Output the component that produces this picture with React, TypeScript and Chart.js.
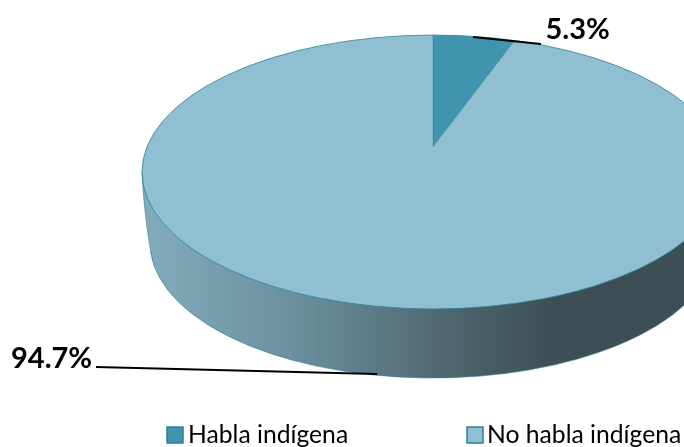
import React, { useEffect, useRef } from "react";
import { Chart, registerables } from "chart.js";

Chart.register(...registerables);

const categories = ["Habla indígena", "No habla indígena"];
const shares = [5.3, 94.7];
const sliceColors = ["#4094ad", "#90bfd2"];
const RIM = "#2f8298";
const FONT = "Lato, Carlito, sans-serif";

// top face, wall foot and apex of the tilted disc
const TOP = { x: 433, y: 172, rx: 291, ry: 137 };
const FOOT = { x: 433, y: 243, rx: 283, ry: 135 };
const APEX = { x: 433, y: 147, rx: 450, tilt: 0.451 };

const labelSpots = [
  { tx: 545.5, ty: 30, from: [473, 37], to: [541, 44] },
  { tx: 11, ty: 358.5, from: [96, 367], to: [377, 374] },
];
const legendSpots = [
  { box: 167, text: 188 },
  { box: 467, text: 487 },
];

const wallPlugin = {
  id: "wall",
  beforeDatasetsDraw(chart: any) {
    const { ctx } = chart;
    const g = ctx.createLinearGradient(142, 0, 724, 0);
    g.addColorStop(0, "#82acbc");
    g.addColorStop(0.26, "#6c909f");
    g.addColorStop(0.5, "#516a74");
    g.addColorStop(0.7, "#3d4f55");
    g.addColorStop(1, "#3d4f55");
    ctx.save();
    ctx.beginPath();
    ctx.moveTo(TOP.x - TOP.rx, TOP.y);
    ctx.bezierCurveTo(143, 195, 146, 225, FOOT.x - FOOT.rx + 1, FOOT.y + 10);
    ctx.ellipse(FOOT.x, FOOT.y, FOOT.rx, FOOT.ry, 0, Math.PI - 0.07, 0, true);
    ctx.lineTo(TOP.x + TOP.rx, TOP.y);
    ctx.closePath();
    ctx.fillStyle = g;
    ctx.fill();
    ctx.lineWidth = 0.6;
    ctx.strokeStyle = RIM;
    ctx.stroke();
    ctx.restore();

    const arc = chart.getDatasetMeta(0).data[0];
    const sx = APEX.rx / arc.outerRadius;
    const sy = sx * APEX.tilt;
    ctx.save();
    ctx.beginPath();
    ctx.ellipse(TOP.x, TOP.y, TOP.rx, TOP.ry, 0, 0, Math.PI * 2);
    ctx.clip();
    ctx.translate(APEX.x, APEX.y);
    ctx.scale(sx, sy);
    ctx.translate(-arc.x, -arc.y);
  },
  afterDatasetsDraw(chart: any) {
    const { ctx } = chart;
    ctx.restore();
    ctx.save();
    ctx.beginPath();
    ctx.ellipse(TOP.x, TOP.y, TOP.rx, TOP.ry, 0, 0, Math.PI * 2);
    ctx.lineWidth = 0.8;
    ctx.strokeStyle = RIM;
    ctx.stroke();

    ctx.textBaseline = "middle";
    ctx.textAlign = "left";
    shares.forEach((v, i) => {
      const s = labelSpots[i];
      ctx.beginPath();
      ctx.moveTo(s.from[0], s.from[1]);
      ctx.lineTo(s.to[0], s.to[1]);
      ctx.lineWidth = 2;
      ctx.strokeStyle = "#000";
      ctx.stroke();
      ctx.font = `bold 29px ${FONT}`;
      ctx.fillStyle = "#000";
      ctx.fillText(`${v.toFixed(1)}%`, s.tx, s.ty);
    });

    categories.forEach((c, i) => {
      const s = legendSpots[i];
      ctx.fillStyle = sliceColors[i];
      ctx.fillRect(s.box, 427, 16, 16);
      ctx.lineWidth = 1.5;
      ctx.strokeStyle = "#2f7f96";
      ctx.strokeRect(s.box, 427, 16, 16);
      ctx.fillStyle = "#000";
      ctx.font = `24.7px ${FONT}`;
      ctx.fillText(c, s.text, 435);
    });
    ctx.restore();
  },
};

export default function App() {
  const ref = useRef<HTMLCanvasElement>(null);
  useEffect(() => {
    document.body.style.margin = "0";
    const chart = new Chart(ref.current as HTMLCanvasElement, {
      type: "pie",
      data: {
        labels: categories,
        datasets: [
          {
            data: shares,
            backgroundColor: sliceColors,
            borderColor: RIM,
            borderWidth: 0.3,
            clip: false,
          } as any,
        ],
      },
      options: {
        responsive: false,
        animation: false,
        plugins: { legend: { display: false }, tooltip: { enabled: false } },
      },
      plugins: [wallPlugin],
    });
    return () => chart.destroy();
  }, []);
  return (
    <div style={{ width: 684, height: 447, overflow: "hidden" }}>
      <canvas ref={ref} width={684} height={447} style={{ display: "block" }} />
    </div>
  );
}
